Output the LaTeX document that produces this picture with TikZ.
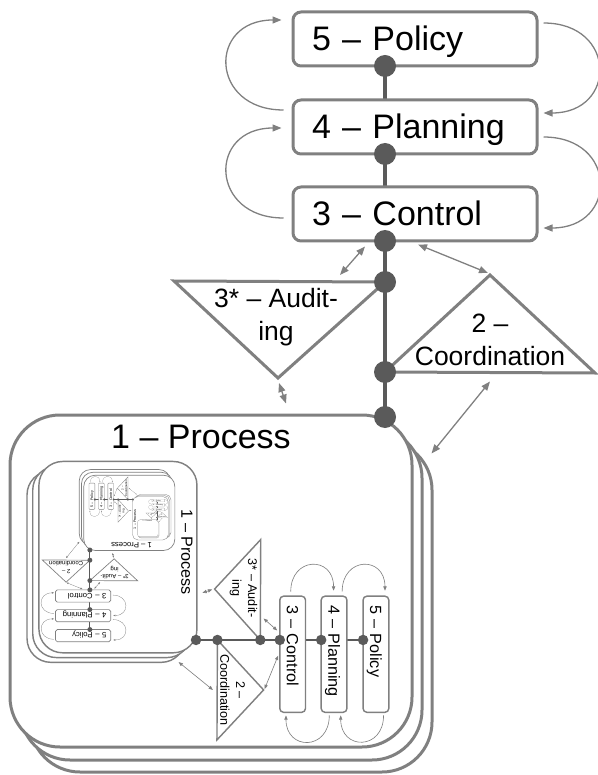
\documentclass[tikz,border=0pt]{standalone}
\usepackage{fontspec}
\setmainfont{Liberation Sans}
\usepackage{tikz}
\usetikzlibrary{calc,positioning,arrows.meta}

\definecolor{boxgray}{RGB}{128,128,128}
\definecolor{dotgray}{RGB}{90,90,90}

\newcommand{\vsmlevel}[1]{%
	% 1 - Process, stacked
	\coordinate (pc) at (211,581);
	\node [process box] (process3) at ($(pc)+(20,25)$) {};
	\node [process box] (process2) at ($(pc)+(10,13)$) {};
	\node [process box] (process) at (pc) {};
	\node [big text] (processtext) at (201,436) {1 -- Process};
	% spine
	\coordinate (s5) at (385,66);
	\coordinate (s4) at (385,154);
	\coordinate (s3) at (385,241);
	\coordinate (sa) at (385,282);
	\coordinate (sc) at (385,372);
	\coordinate (sp) at (385,417);
	\draw [spine] (s5) -- (sp);
	\node [vsm box] (policy) at (415,39) {5 -- Policy};
	\node [vsm box] (planning) at (415,127) {4 -- Planning};
	\node [vsm box] (control) at (415,214) {3 -- Control};
	% 3* and 2
	\coordinate (aL) at (174,281);
	\coordinate (aB) at (278,378);
	\coordinate (cT) at (490,275);
	\coordinate (cR) at (595,373);
	\draw [tri] (aL) -- (sa) -- (aB) -- cycle;
	\draw [tri] (sc) -- (cT) -- (cR) -- cycle;
	\node [small text] (audittext) at (276,317) {3* -- Audit-\\ing};
	\node [small text] (coordtext) at (490,340) {2 --\\Coordination};
	\foreach \s in {s5,s4,s3,sa,sc,sp}
		\node [dot] at (\s) {};
	% feedback loops
	\draw [feedback] ([shift={(-8,-17)}]planning.west) to [out=180,in=180,looseness=2.1] ([shift={(-10,-19)}]policy.west);
	\draw [feedback] ([shift={(-8,4)}]control.west) to [out=180,in=180,looseness=2.1] ([shift={(-10,1)}]planning.west);
	\draw [feedback] ([shift={(5,-16)}]policy.east) to [out=0,in=0,looseness=2.1] ([shift={(5,-14)}]planning.east);
	\draw [feedback] ([shift={(5,10)}]planning.east) to [out=0,in=0,looseness=2.1] ([shift={(5,14)}]control.east);
	% links
	\draw [link] ([shift={(-50,4)}]control.south) -- ($(sa)+(-45,-7)$);
	\draw [link] ([shift={(3,2)}]control.south) -- ($(cT)+(-2,-2)$);
	\draw [link] ($(aB)+(1,5)$) -- ([shift={(75,-10)}]process.north);
	\draw [link] ($(sc)!0.5!(cR)+(0,9)$) -- ([shift={(18,40)}]process.north east);
	% recursion
	\ifnum#1>0
		\begin{scope}[transform canvas={cm={0,-0.476,0.476,0,(394.5pt,-456.7pt)}}]
			\expandafter\vsmlevel\expandafter{\the\numexpr#1-1\relax}
		\end{scope}
	\fi}

\begin{document}
\begin{tikzpicture}[x=1pt,y=-1pt]
	\tikzset{
		vsm box/.style={draw=boxgray,line width=3pt,fill=white,rounded corners=8pt,minimum height=54pt,text width=206pt,inner xsep=19pt,inner ysep=0pt,align=left,font=\fontsize{34}{40}\selectfont,text height=24pt,text depth=0pt},
		process box/.style={draw=boxgray,line width=3pt,fill=white,rounded corners=50pt,minimum width=402pt,minimum height=332pt,inner sep=0pt},
		big text/.style={font=\fontsize{34}{40}\selectfont,text height=24pt,text depth=0pt,inner sep=0pt},
		small text/.style={font=\fontsize{26.5}{33}\selectfont,align=center,inner sep=0pt},
		tri/.style={draw=boxgray,line width=3pt,fill=white},
		spine/.style={draw=dotgray,line width=4pt},
		dot/.style={circle,fill=dotgray,minimum size=22pt,inner sep=0pt},
		feedback/.style={draw=boxgray,line width=1.3pt,-{Triangle[length=9pt,width=7pt]}},
		link/.style={draw=boxgray,line width=1.3pt,{Triangle[length=9pt,width=7pt]}-{Triangle[length=9pt,width=7pt]}}
	}
	\useasboundingbox (0,0) rectangle (597,775);
	\vsmlevel{4}
\end{tikzpicture}
\end{document}
